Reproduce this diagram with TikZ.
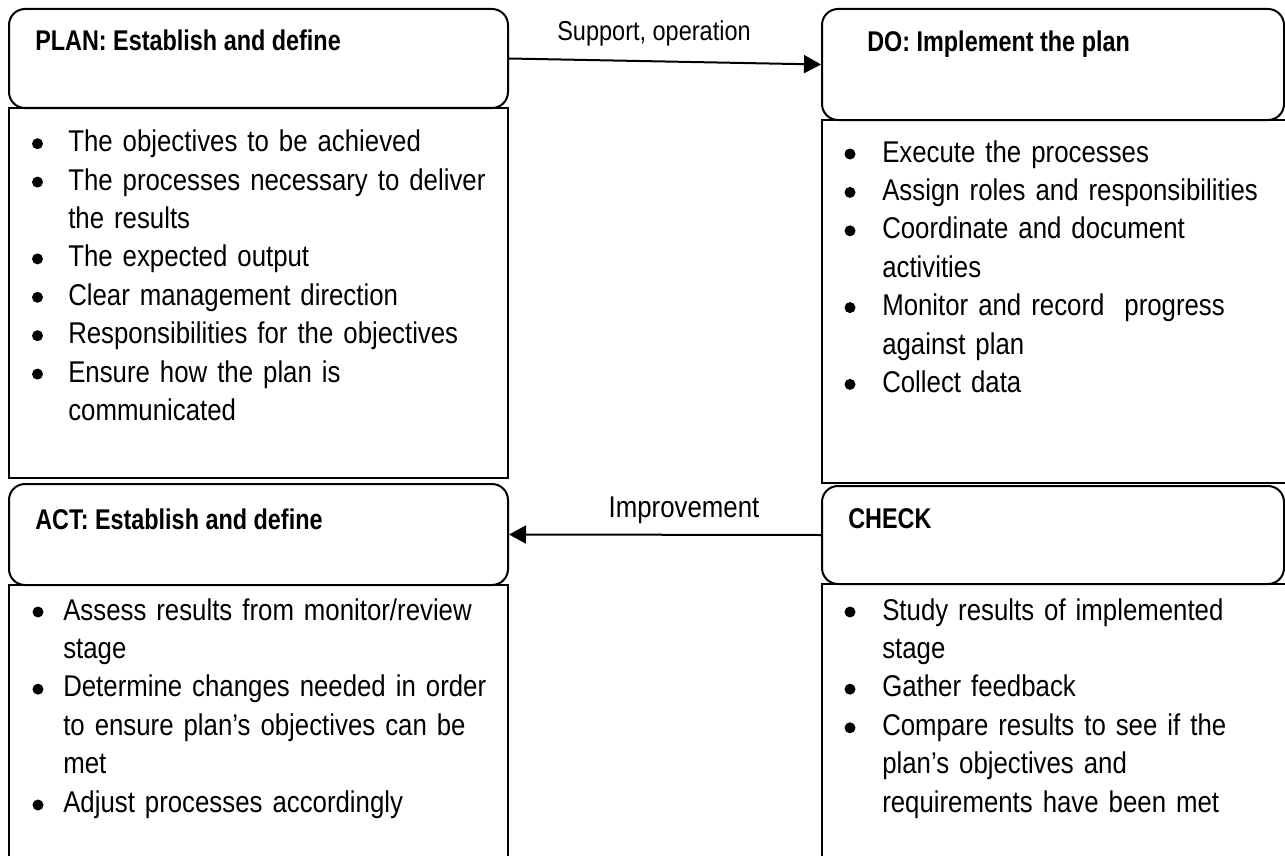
\documentclass[tikz,border=0pt]{standalone}
\usepackage{fontspec}
\setmainfont[FakeStretch=0.86]{Liberation Sans}
\newfontfamily\headfont[FakeStretch=0.82]{Liberation Sans}
\usetikzlibrary{arrows.meta}
\hyphenpenalty=10000
\newcommand{\listfont}{\fontsize{22.5pt}{28.8pt}\selectfont\spaceskip=0.21em\relax}

\begin{document}
\begin{tikzpicture}[x=0.75pt,y=0.75pt,yscale=-1,xscale=1,
  headbox/.style={draw, line width=1.5pt, rounded corners=12pt, inner sep=0pt, minimum width=374.25pt, minimum height=74.25pt},
  listbox/.style={draw, line width=1.5pt, inner sep=0pt, minimum width=374.25pt},
  headtxt/.style={inner sep=0pt, anchor=base west, font=\headfont\bfseries\fontsize{21.4pt}{25pt}\selectfont},
  listtxt/.style={inner sep=0pt, anchor=base west, text width=380pt, align=left, font=\listfont},
  lbl/.style={inner sep=0pt, anchor=base},
  flow/.style={line width=1.5pt, -{Triangle[length=12.75pt,width=13.5pt]}}
]
\useasboundingbox (0,0) rectangle (1285,856);

%Shape: list boxes
\node [listbox, minimum height=277.5pt] (planlist) at (258.5,293) {};
\node [listbox, minimum width=354.75pt, minimum height=272.25pt] (dolist) at (1058.5,301.5) {};
\node [listbox, minimum height=213.75pt] (actlist) at (258.5,727.5) {};
\node [listbox, minimum width=354.75pt, minimum height=214.5pt] (checklist) at (1058.5,727) {};

%Shape: title boxes
\node [headbox] (plan) at (258.5,58.5) {};
\node [headbox, minimum width=346.5pt, minimum height=83.25pt] (do) at (1053,64.5) {};
\node [headbox, minimum height=75.75pt] (act) at (258.5,534.5) {};
\node [headbox, minimum width=346.5pt, minimum height=73.5pt] (check) at (1053,535) {};

%Straight Lines: cycle arrows
\draw [flow] (plan.east) -- (do.west);
\draw [flow] (check.west) -- (act.east);

% Text Node
\node [lbl, font=\fontsize{20.5pt}{24pt}\selectfont] (suplbl) at (654,41) {Support, operation};
% Text Node
\node [lbl, font=\fontsize{22.5pt}{27pt}\selectfont] (implbl) at (684,517) {Improvement};

% Text Node
\node [headtxt] (plantitle) at (35,51) {PLAN: Establish and define};
\node [headtxt] (dotitle) at (867,52) {DO: Implement the plan};
\node [headtxt] (acttitle) at (35,529) {ACT: Establish and define};
\node [headtxt] (checktitle) at (848,528) {CHECK};

% Text Node
\node [listtxt] (plantxt) at (68,151.7) {The objectives to be achieved\\The processes necessary to deliver\\the results\\The expected output\\Clear management direction\\Responsibilities for the objectives\\Ensure how the plan is\\communicated};
\node [listtxt] (dotxt) at (882,162) {Execute the processes\\Assign roles and responsibilities\\Coordinate and document\\activities\\Monitor and record~ progress\\against plan\\Collect data};
\node [listtxt] (acttxt) at (63,620) {Assess results from monitor/review\\stage\\Determine changes needed in order\\to ensure plan’s objectives can be\\met\\Adjust processes accordingly};
\node [listtxt] (checktxt) at (882,620) {Study results of implemented\\stage\\Gather feedback\\Compare results to see if the\\plan’s objectives and\\requirements have been met};

%Shape: bullets
\foreach \i in {0,1,3,4,5,6} \fill (37.5,{151.7+38.4*\i-8}) circle (5.5);
\foreach \i in {0,1,2,4,6} \fill (850,{162+38.4*\i-8}) circle (5.5);
\foreach \i in {0,2,5} \fill (38,{620+38.6*\i-8}) circle (5.5);
\foreach \i in {0,2,3} \fill (850,{620+38.6*\i-8}) circle (5.5);

\end{tikzpicture}
\end{document}
